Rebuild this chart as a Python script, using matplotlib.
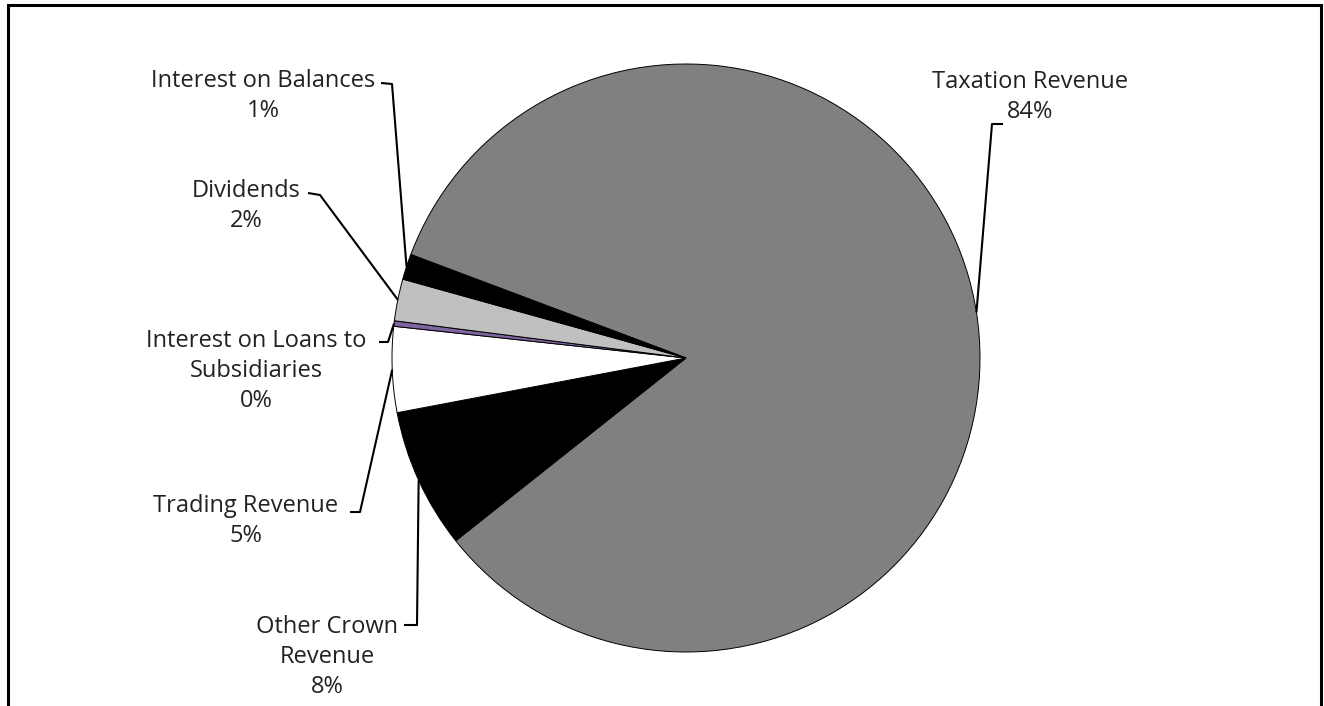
import numpy as np
import matplotlib.pyplot as plt
from matplotlib.patches import Rectangle

# Revenue breakdown (percent of total), clockwise from the taxation wedge
categories = ["Taxation Revenue", "Other Crown\nRevenue", "Trading Revenue",
              "Interest on Loans to\nSubsidiaries", "Dividends", "Interest on Balances"]
shares = [83.6, 7.7, 4.7, 0.3, 2.3, 1.4]
colors = ["#808080", "#000000", "#ffffff", "#8064a2", "#c0c0c0", "#000000"]

W, H = 1324, 706
fig = plt.figure(figsize=(W / 100, H / 100), dpi=100)
ax = fig.add_axes([0, 0, 1, 1])

cx, cy, r = 686, H - 358, 294
start = 159.4
wedges, _ = ax.pie(shares, colors=colors, startangle=start, counterclock=False,
                   center=(cx, cy), radius=r, frame=True,
                   wedgeprops=dict(edgecolor="black", linewidth=0.7))
ax.set_xlim(0, W)
ax.set_ylim(0, H)
ax.set_aspect("equal")
ax.set_axis_off()

# label block centre (x, y from top) and the elbow of its leader line
label_pos = [
    (1030, 97, [(1003, 124), (992, 124)]),
    (327, 657, [(404, 625), (417, 625)]),
    (246, 521, [(350, 512), (360, 512)]),
    (256, 371, [(379, 342), (388, 342)]),
    (246, 206, [(308, 193), (320, 195)]),
    (263, 96, [(381, 83), (392, 84)]),
]

font = ["Open Sans", "DejaVu Sans"]
for name, val, w, (tx, ty, elbow) in zip(categories, shares, wedges, label_pos):
    ax.text(tx, H - ty, f"{name}\n{round(val)}%", ha="center", va="center",
            fontsize=17, family=font, color="#222222", linespacing=1.32)
    mid = np.deg2rad((w.theta1 + w.theta2) / 2)
    ex, ey = cx + r * np.cos(mid), cy + r * np.sin(mid)
    xs = [p[0] for p in elbow] + [ex]
    ys = [H - p[1] for p in elbow] + [ey]
    ax.plot(xs, ys, color="black", lw=1.5, solid_capstyle="butt")

# outer chart frame
ax.add_patch(Rectangle((8, -10), 1313, H - 5 + 10, fill=False,
                       edgecolor="black", lw=2.2))

fig.savefig("out.png", dpi=100)
